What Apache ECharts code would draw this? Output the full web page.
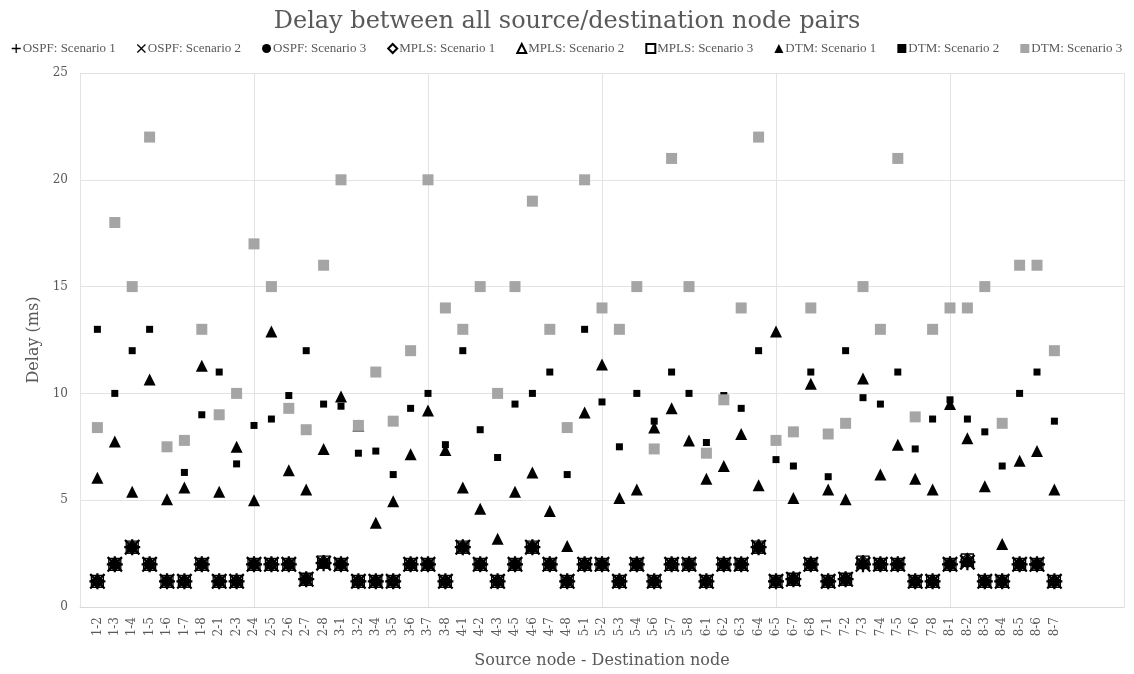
<!DOCTYPE html>
<html>
<head>
<meta charset="utf-8">
<script src="https://cdn.jsdelivr.net/npm/echarts@6/dist/echarts.min.js"></script>
<style>html,body{margin:0;padding:0;background:#fff}#c{width:1134px;height:674px}</style>
</head>
<body>
<div id="c"></div>
<script>
const categories = ['1-2','1-3','1-4','1-5','1-6','1-7','1-8',
  '2-1','2-3','2-4','2-5','2-6','2-7','2-8',
  '3-1','3-2','3-4','3-5','3-6','3-7','3-8',
  '4-1','4-2','4-3','4-5','4-6','4-7','4-8',
  '5-1','5-2','5-3','5-4','5-6','5-7','5-8',
  '6-1','6-2','6-3','6-4','6-5','6-7','6-8',
  '7-1','7-2','7-3','7-4','7-5','7-6','7-8',
  '8-1','8-2','8-3','8-4','8-5','8-6','8-7'];

const ospfScenario1 = [1.2,2.0,2.8,2.0,1.2,1.2,2.0, 1.2,1.2,2.0,2.0,2.0,1.3,2.05, 2.0,1.2,1.2,1.2,2.0,2.0,1.2, 2.8,2.0,1.2,2.0,2.8,2.0,1.2, 2.0,2.0,1.2,2.0,1.2,2.0,2.0, 1.2,2.0,2.0,2.8,1.2,1.3,2.0, 1.2,1.3,2.0,2.0,2.0,1.2,1.2, 2.0,2.1,1.2,1.2,2.0,2.0,1.2];
const ospfScenario2 = [1.2,2.0,2.8,2.0,1.2,1.2,2.0, 1.2,1.2,2.0,2.0,2.0,1.3,2.05, 2.0,1.2,1.2,1.2,2.0,2.0,1.2, 2.8,2.0,1.2,2.0,2.8,2.0,1.2, 2.0,2.0,1.2,2.0,1.2,2.0,2.0, 1.2,2.0,2.0,2.8,1.2,1.3,2.0, 1.2,1.3,2.0,2.0,2.0,1.2,1.2, 2.0,2.1,1.2,1.2,2.0,2.0,1.2];
const ospfScenario3 = [1.2,2.0,2.8,2.0,1.2,1.2,2.0, 1.2,1.2,2.0,2.0,2.0,1.3,2.05, 2.0,1.2,1.2,1.2,2.0,2.0,1.2, 2.8,2.0,1.2,2.0,2.8,2.0,1.2, 2.0,2.0,1.2,2.0,1.2,2.0,2.0, 1.2,2.0,2.0,2.8,1.2,1.3,2.0, 1.2,1.3,2.0,2.0,2.0,1.2,1.2, 2.0,2.1,1.2,1.2,2.0,2.0,1.2];
const mplsScenario1 = [1.2,2.0,2.8,2.0,1.2,1.2,2.0, 1.2,1.2,2.0,2.0,2.0,1.3,2.1, 2.0,1.2,1.2,1.2,2.0,2.0,1.2, 2.8,2.0,1.2,2.0,2.8,2.0,1.2, 2.0,2.0,1.2,2.0,1.2,2.0,2.0, 1.2,2.0,2.0,2.8,1.2,1.3,2.0, 1.2,1.3,2.1,2.0,2.0,1.2,1.2, 2.0,2.2,1.2,1.2,2.0,2.0,1.2];
const mplsScenario2 = [1.2,2.0,2.8,2.0,1.2,1.2,2.0, 1.2,1.2,2.0,2.0,2.0,1.3,2.1, 2.0,1.2,1.2,1.2,2.0,2.0,1.2, 2.8,2.0,1.2,2.0,2.8,2.0,1.2, 2.0,2.0,1.2,2.0,1.2,2.0,2.0, 1.2,2.0,2.0,2.8,1.2,1.3,2.0, 1.2,1.3,2.1,2.0,2.0,1.2,1.2, 2.0,2.2,1.2,1.2,2.0,2.0,1.2];
const mplsScenario3 = [1.2,2.0,2.8,2.0,1.2,1.2,2.0, 1.2,1.2,2.0,2.0,2.0,1.3,2.1, 2.0,1.2,1.2,1.2,2.0,2.0,1.2, 2.8,2.0,1.2,2.0,2.8,2.0,1.2, 2.0,2.0,1.2,2.0,1.2,2.0,2.0, 1.2,2.0,2.0,2.8,1.2,1.3,2.0, 1.2,1.3,2.1,2.0,2.0,1.2,1.2, 2.0,2.2,1.2,1.2,2.0,2.0,1.2];
const dtmScenario1 = [6.05,7.75,5.4,10.65,5.05,5.6,11.3, 5.4,7.5,5.0,12.9,6.4,5.5,7.4, 9.85,8.5,3.95,4.95,7.15,9.2,7.35, 5.6,4.6,3.2,5.4,6.3,4.5,2.85, 9.1,11.35,5.1,5.5,8.4,9.3,7.8, 6.0,6.6,8.1,5.7,12.9,5.1,10.45, 5.5,5.05,10.7,6.2,7.6,6.0,5.5, 9.5,7.9,5.65,2.95,6.85,7.3,5.5];
const dtmScenario2 = [13,10,12,13,7.5,6.3,9.0, 11,6.7,8.5,8.8,9.9,12,9.5, 9.4,7.2,7.3,6.2,9.3,10,7.6, 12,8.3,7.0,9.5,10,11,6.2, 13,9.6,7.5,10,8.7,11,10, 7.7,9.9,9.3,12,6.9,6.6,11, 6.1,12,9.8,9.5,11,7.4,8.8, 9.7,8.8,8.2,6.6,10,11,8.7];
const dtmScenario3 = [8.4,18,15,22,7.5,7.8,13, 9.0,10,17,15,9.3,8.3,16, 20,8.5,11,8.7,12,20,14, 13,15,10,15,19,13,8.4, 20,14,13,15,7.4,21,15, 7.2,9.7,14,22,7.8,8.2,14, 8.1,8.6,15,13,21,8.9,13, 14,14,15,8.6,16,16,12];

const yTicks = [0, 5, 10, 15, 20, 25];

// axis slots: 0 .. 60, categories occupy 1..56
const axisSlots = [''].concat(categories, ['', '', '', '']);
const toPoints = arr => arr.map((v, i) => [i + 1, v]);

const TXT = '#595959';
const FONT = 'DejaVu Serif';
const plusPath = 'path://M4.3,0h1.4v4.3h4.3v1.4h-4.3v4.3h-1.4v-4.3h-4.3v-1.4h4.3z';
const crossPath = 'path://M1,0L5,4L9,0L10,1L6,5L10,9L9,10L5,6L1,10L0,9L4,5L0,1Z';

function mk(name, data, symbol, size, style) {
  return { name, type: 'scatter', data: toPoints(data), symbol, symbolSize: size,
    itemStyle: Object.assign({ opacity: 1 }, style), emphasis: { disabled: true } };
}

const hollow = { color: 'rgba(255,255,255,0)', borderColor: '#000', borderWidth: 1.3 };

const option = {
  animation: false,
  backgroundColor: '#fff',
  title: {
    text: 'Delay between all source/destination node pairs',
    left: 'center', top: 5,
    textStyle: { fontFamily: FONT, fontSize: 24, fontWeight: 'normal', color: TXT }
  },
  legend: {
    top: 37, left: 'center', itemWidth: 9, itemHeight: 9, itemGap: 21,
    textStyle: { fontFamily: 'Liberation Serif', fontSize: 13, color: TXT, padding: [0, 0, 0, -3] },
    data: ['OSPF: Scenario 1','OSPF: Scenario 2','OSPF: Scenario 3','MPLS: Scenario 1','MPLS: Scenario 2','MPLS: Scenario 3','DTM: Scenario 1','DTM: Scenario 2','DTM: Scenario 3']
  },
  grid: { left: 80, right: 10, top: 73, bottom: 62, containLabel: false },
  xAxis: {
    type: 'category', data: axisSlots, boundaryGap: false,
    name: 'Source node - Destination node', nameLocation: 'middle', nameGap: 46,
    nameTextStyle: { fontFamily: FONT, fontSize: 16, color: TXT },
    axisLine: { show: true, lineStyle: { color: '#d9d9d9', width: 1 } },
    axisTick: { show: false },
    axisLabel: { interval: 0, rotate: 90, fontFamily: FONT, fontSize: 12, color: TXT, margin: 10 },
    splitLine: { show: true, interval: (idx) => idx % 10 === 0, lineStyle: { color: '#e3e3e3', width: 1 } }
  },
  yAxis: {
    type: 'value', min: yTicks[0], max: yTicks[yTicks.length - 1], interval: 5,
    name: 'Delay (ms)', nameLocation: 'middle', nameGap: 38, nameRotate: 90,
    nameTextStyle: { fontFamily: FONT, fontSize: 16, color: TXT },
    axisLine: { show: false }, axisTick: { show: false },
    axisLabel: { fontFamily: FONT, fontSize: 12, color: TXT, margin: 12 },
    splitLine: { lineStyle: { color: '#e3e3e3', width: 1 } }
  },
  series: [
    mk('OSPF: Scenario 1', ospfScenario1, plusPath, 16, { color: '#000' }),
    mk('OSPF: Scenario 2', ospfScenario2, crossPath, 16, { color: '#000' }),
    mk('OSPF: Scenario 3', ospfScenario3, 'circle', 11, { color: '#000' }),
    mk('MPLS: Scenario 1', mplsScenario1, 'diamond', 13, hollow),
    mk('MPLS: Scenario 2', mplsScenario2, 'triangle', 12, hollow),
    mk('MPLS: Scenario 3', mplsScenario3, 'rect', 12, hollow),
    mk('DTM: Scenario 1', dtmScenario1, 'triangle', 12, { color: '#000' }),
    mk('DTM: Scenario 2', dtmScenario2, 'rect', 7, { color: '#000' }),
    mk('DTM: Scenario 3', dtmScenario3, 'rect', 11, { color: '#a5a5a5' })
  ]
};
const chart = echarts.init(document.getElementById('c'), null, { renderer: 'canvas' });
chart.setOption(option);
</script>
</body>
</html>
